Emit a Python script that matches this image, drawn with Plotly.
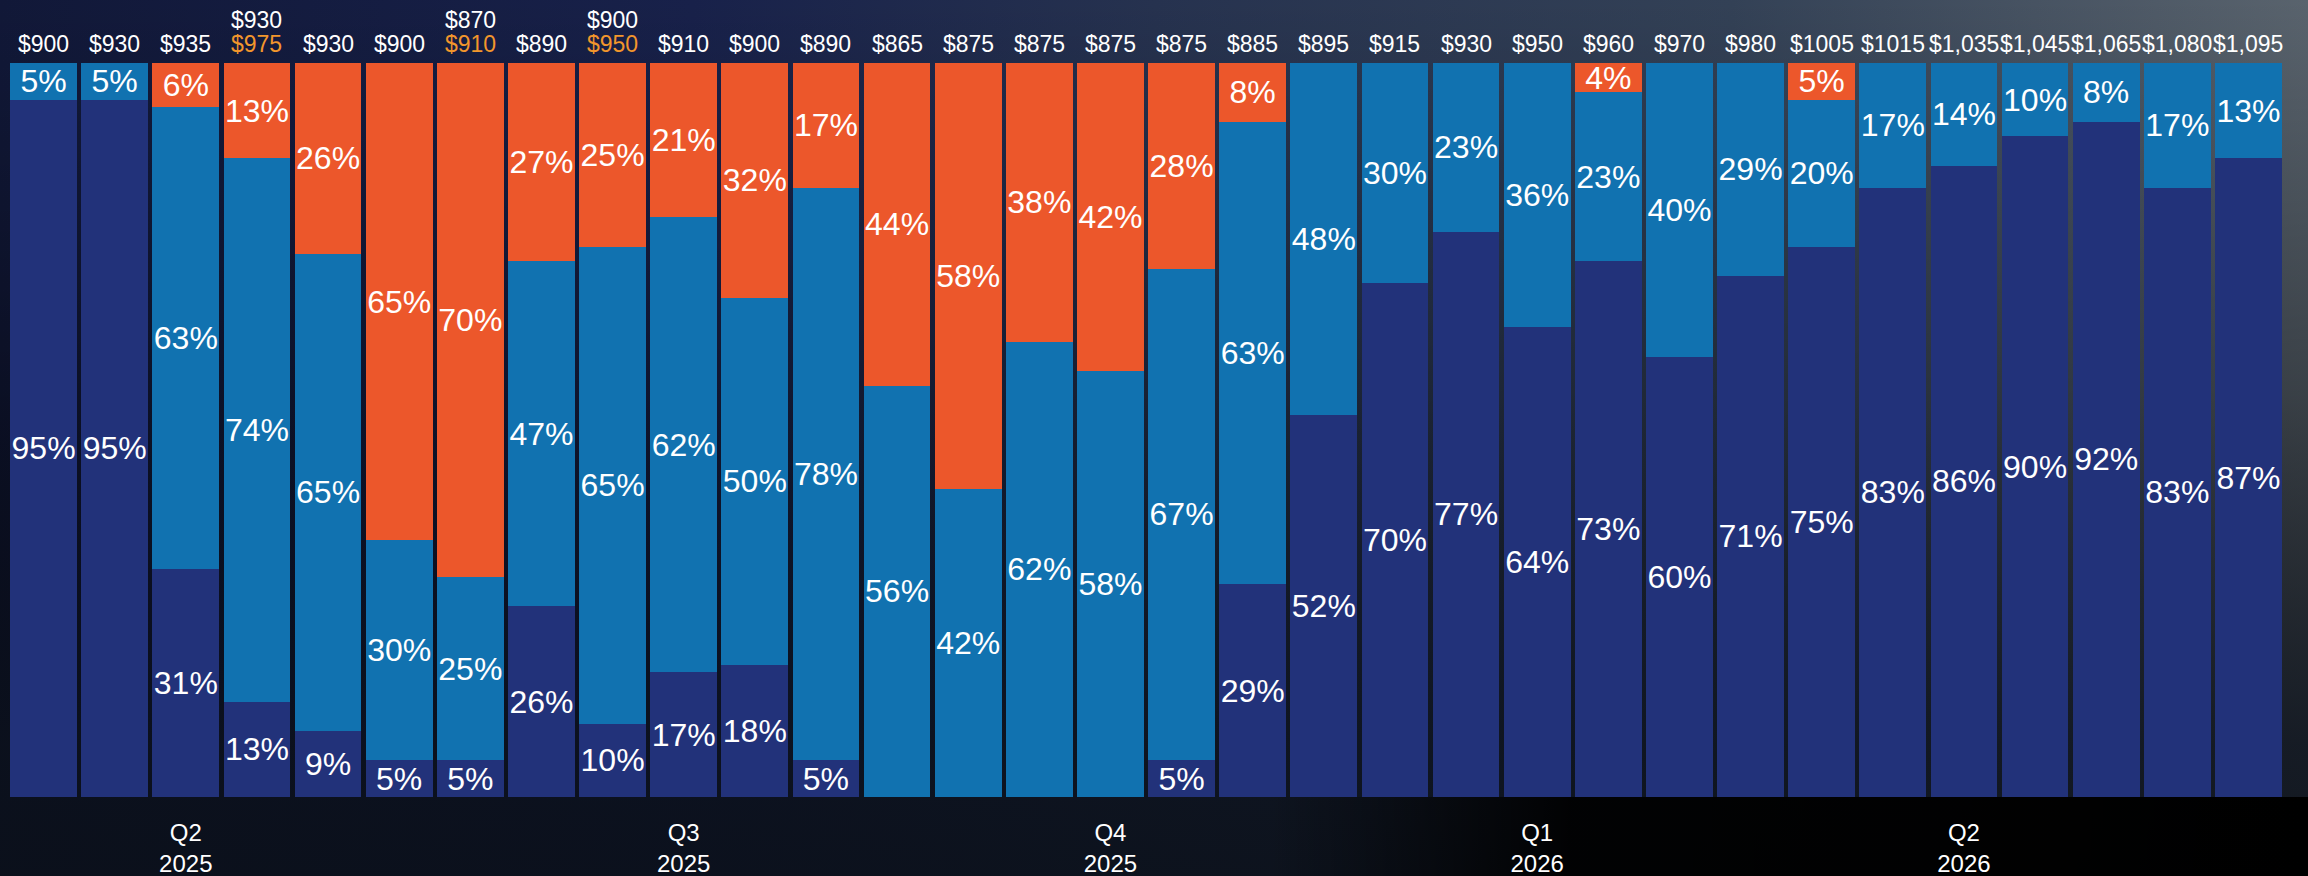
import base64
import plotly.graph_objects as go

# ---------------- data ----------------
prices = ["$900", "$930", "$935", "$930", "$930", "$900", "$870", "$890", "$900", "$910",
          "$900", "$890", "$865", "$875", "$875", "$875", "$875", "$885", "$895", "$915",
          "$930", "$950", "$960", "$970", "$980", "$1005", "$1015", "$1,035", "$1,045",
          "$1,065", "$1,080", "$1,095"]
revised_prices = ["", "", "", "$975", "", "", "$910", "", "$950", "", "", "", "", "", "", "",
                  "", "", "", "", "", "", "", "", "", "", "", "", "", "", "", ""]
navy_pct = [95, 95, 31, 13, 9, 5, 5, 26, 10, 17, 18, 5, 0, 0, 0, 0,
            5, 29, 52, 70, 77, 64, 73, 60, 71, 75, 83, 86, 90, 92, 83, 87]
blue_pct = [5, 5, 63, 74, 65, 30, 25, 47, 65, 62, 50, 78, 56, 42, 62, 58,
            67, 63, 48, 30, 23, 36, 23, 40, 29, 20, 17, 14, 10, 8, 17, 13]
orange_pct = [0, 0, 6, 13, 26, 65, 70, 27, 25, 21, 32, 17, 44, 58, 38, 42,
              28, 8, 0, 0, 0, 0, 4, 0, 0, 5, 0, 0, 0, 0, 0, 0]
quarter_pos = [2, 9, 15, 21, 27]
quarter_labels = ["Q2<br>2025", "Q3<br>2025", "Q4<br>2025", "Q1<br>2026", "Q2<br>2026"]

x = list(range(len(prices)))

NAVY = "#22327a"
BLUE = "#1172b0"
ORANGE = "#ec572b"
GOLD = "#f2962c"
FONT = "Liberation Sans, Arial, Helvetica, sans-serif"


def labels(vals):
    return [f"{v}%" if v > 0 else "" for v in vals]


fig = go.Figure()
for vals, col in [(navy_pct, NAVY), (blue_pct, BLUE), (orange_pct, ORANGE)]:
    fig.add_trace(go.Bar(
        x=x, y=vals, marker=dict(color=col, line=dict(width=0)),
        text=labels(vals), textposition="inside", insidetextanchor="middle",
        textangle=0, textfont=dict(family=FONT, size=32, color="white"),
        hoverinfo="skip", showlegend=False, cliponaxis=False,
    ))

# price labels above bars
for i, p in enumerate(prices):
    if revised_prices[i]:
        fig.add_annotation(x=i, y=1, xref="x", yref="paper", text=p, showarrow=False,
                           yanchor="middle", yshift=43,
                           font=dict(family=FONT, size=23, color="white"))
        fig.add_annotation(x=i, y=1, xref="x", yref="paper", text=revised_prices[i],
                           showarrow=False, yanchor="middle", yshift=19,
                           font=dict(family=FONT, size=23, color=GOLD))
    else:
        fig.add_annotation(x=i, y=1, xref="x", yref="paper", text=p, showarrow=False,
                           yanchor="middle", yshift=19,
                           font=dict(family=FONT, size=23, color="white"))

# background image (svg gradient)
W, H = 2308, 876
svg = f"""<svg xmlns='http://www.w3.org/2000/svg' width='{W}' height='{H}' viewBox='0 0 {W} {H}' preserveAspectRatio='none'>
<defs>
<linearGradient id='h' x1='0' y1='0' x2='1' y2='0'>
<stop offset='0' stop-color='#111838'/>
<stop offset='0.3' stop-color='#18214a'/>
<stop offset='0.5' stop-color='#26324f'/>
<stop offset='0.75' stop-color='#334156'/>
<stop offset='1' stop-color='#59636d'/>
</linearGradient>
<linearGradient id='v' x1='0' y1='0' x2='0' y2='1'>
<stop offset='0' stop-color='#000' stop-opacity='0'/>
<stop offset='0.45' stop-color='#000' stop-opacity='0.35'/>
<stop offset='0.85' stop-color='#0a0f18' stop-opacity='0.85'/>
<stop offset='1' stop-color='#0a0f18' stop-opacity='0.9'/>
</linearGradient>
<linearGradient id='r' x1='0' y1='0' x2='1' y2='0'>
<stop offset='0' stop-color='#000' stop-opacity='0'/>
<stop offset='0.55' stop-color='#000' stop-opacity='0'/>
<stop offset='0.68' stop-color='#000' stop-opacity='0.9'/>
<stop offset='1' stop-color='#000' stop-opacity='1'/>
</linearGradient>
</defs>
<rect x='0' y='0' width='{W}' height='{H}' fill='url(#h)'/>
<rect x='0' y='0' width='{W}' height='{H}' fill='url(#v)'/>
<rect x='0' y='797' width='{W}' height='79' fill='url(#r)'/>
</svg>"""
src = "data:image/svg+xml;base64," + base64.b64encode(svg.encode()).decode()

ML, MR, MT, MB = 8, 24, 63, 79
pw = W - ML - MR
ph = H - MT - MB
fig.add_layout_image(dict(source=src, xref="paper", yref="paper",
                          x=-ML / pw, y=1 + MT / ph, sizex=W / pw, sizey=H / ph,
                          xanchor="left", yanchor="top", sizing="stretch", layer="below"))

fig.update_layout(
    width=W, height=H,
    barmode="stack", bargap=0.063,
    margin=dict(l=ML, r=MR, t=MT, b=MB, pad=0, autoexpand=False),
    paper_bgcolor="#0d1326", plot_bgcolor="rgba(0,0,0,0)",
    uniformtext=dict(minsize=32, mode="show"),
    font=dict(family=FONT, color="white"),
    xaxis=dict(range=[-0.5, len(prices) - 0.5], tickmode="array", tickvals=quarter_pos,
               ticktext=quarter_labels, ticks="outside", ticklen=14, automargin=False,
               tickcolor="rgba(0,0,0,0)", showgrid=False, zeroline=False, showline=False,
               tickfont=dict(family=FONT, size=24, color="white")),
    yaxis=dict(range=[0, 100], visible=False, showgrid=False, zeroline=False,
               automargin=False),
)

fig.write_html(
    "out.html",
    config={"displayModeBar": False},
    post_script="document.body.style.margin='0';document.body.style.padding='0';"
                "document.body.style.background='#0d1326';document.body.style.overflow='hidden';",
)
